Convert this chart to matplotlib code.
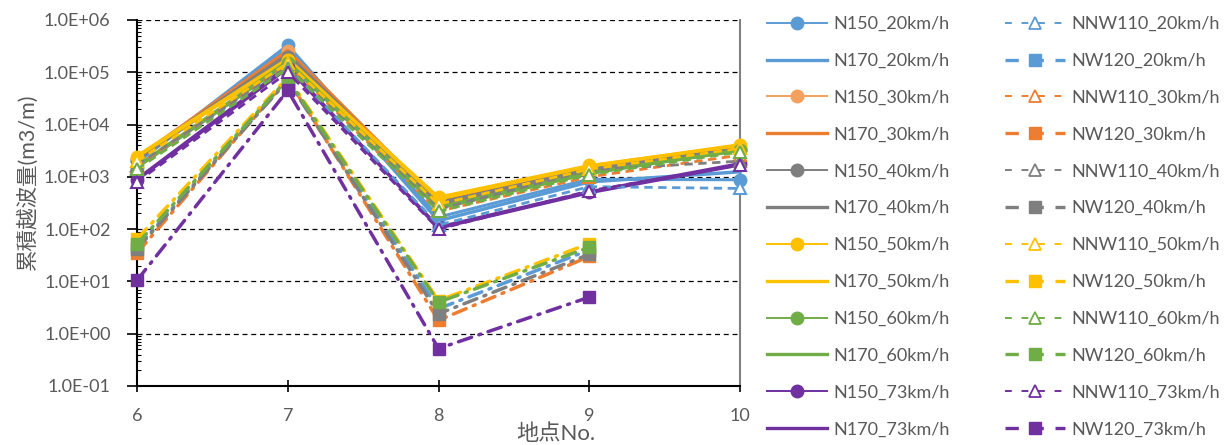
import numpy as np
import matplotlib
matplotlib.use("Agg")
import matplotlib.pyplot as plt
from matplotlib.lines import Line2D
from matplotlib.ticker import LogLocator, FixedLocator, FuncFormatter, NullFormatter

plt.rcParams['font.family'] = ['Lato', 'Noto Sans CJK JP', 'DejaVu Sans']

# ---------------- data ----------------
points = [6, 7, 8, 9, 10]
speeds = ['20', '30', '40', '50', '60', '73']

n150 = {
    '20': [2000, 330000, 170, 900, 880],
    '30': [2200, 250000, 300, 1300, 3500],
    '40': [2100, 200000, 280, 1250, 3200],
    '50': [2400, 170000, 410, 1650, 4000],
    '60': [1500, 150000, 250, 1150, 3300],
    '73': [870, 120000, 110, 520, 1800],
}
n170 = {
    '20': [1900, 280000, 145, 800, 1250],
    '30': [2300, 260000, 330, 1450, 3700],
    '40': [2300, 220000, 320, 1400, 3500],
    '50': [2500, 180000, 380, 1600, 4100],
    '60': [1600, 160000, 260, 1200, 3200],
    '73': [900, 130000, 105, 500, 1700],
}
nnw110 = {
    '20': [1500, 130000, 120, 650, 600],
    '30': [1600, 140000, 220, 1000, 2600],
    '40': [1700, 130000, 240, 1350, 2000],
    '50': [2000, 150000, 300, 1400, 3500],
    '60': [1400, 120000, 220, 1100, 3000],
    '73': [800, 100000, 100, 540, 1700],
}
nw120 = {
    '20': [45, 70000, 3.0, 40, np.nan],
    '30': [35, 75000, 1.8, 30, np.nan],
    '40': [42, 70000, 2.4, 33, np.nan],
    '50': [65, 80000, 4.3, 53, np.nan],
    '60': [52, 75000, 4.0, 45, np.nan],
    '73': [10.5, 45000, 0.52, 5.0, np.nan],
}

colors = {'20': '#5B9BD5', '30': '#ED7D31', '40': '#7F7F7F',
          '50': '#FFC000', '60': '#70AD47', '73': '#7030A0'}
light = {'20': '#5B9BD5', '30': '#F4A15F', '40': '#7F7F7F',
         '50': '#FFC000', '60': '#70AD47', '73': '#7030A0'}

ylabel = '累積越波量(m3/m)'
xlabel = '地点No.'
ytick_vals = [1e-1, 1e0, 1e1, 1e2, 1e3, 1e4, 1e5, 1e6]

# ---------------- figure ----------------
W, H = 1224, 445
fig = plt.figure(figsize=(W / 100, H / 100), dpi=100)
ax = fig.add_axes([137 / W, 1 - 386 / H, (740 - 137) / W, (386 - 20) / H])

x = np.array(points, dtype=float)
dashdot = (0, (4, 2.2, 0.6, 2.2))
dashed = (0, (3, 2))

for s in speeds:
    ax.plot(x, n150[s], color=light[s], lw=2.2, marker='o', ms=9,
            clip_on=False, zorder=3)
    ax.plot(x, n170[s], color=colors[s], lw=2.5, clip_on=False, zorder=3)
for s in speeds:
    ax.plot(x, nnw110[s], color=colors[s], lw=2.0, ls=dashed, marker='^',
            ms=9, mfc='white', mec=colors[s], mew=1.5, clip_on=False, zorder=3)
    ax.plot(x, nw120[s], color=colors[s], lw=2.5, ls=dashdot, marker='s',
            ms=8.5, clip_on=False, zorder=3, dash_capstyle='round')

ax.set_yscale('log')
ax.set_ylim(1e-1, 1e6)
ax.set_xlim(6, 10)
ax.set_xticks(points)
ax.set_xticklabels([str(p) for p in points])
ax.yaxis.set_major_locator(FixedLocator(ytick_vals))
ax.yaxis.set_major_formatter(FuncFormatter(lambda v, p: '%.1E' % v))
ax.yaxis.set_minor_locator(LogLocator(base=10, subs=np.arange(2, 10), numticks=20))
ax.yaxis.set_minor_formatter(NullFormatter())

tick_color = '#595959'
ax.tick_params(axis='y', which='major', direction='out', length=7, width=1.2,
               labelsize=13, labelcolor=tick_color, pad=12)
ax.tick_params(axis='y', which='minor', direction='in', length=3, width=0.8)
ax.tick_params(axis='x', which='major', direction='inout', length=9, width=1.2,
               labelsize=13, labelcolor=tick_color, pad=11)

ax.grid(axis='y', which='major', color='black', lw=0.9, ls=(0, (4, 3)))
ax.set_axisbelow(True)
ax.spines['top'].set_visible(False)
ax.spines['right'].set_color('#808080')
ax.spines['right'].set_linewidth(1.5)
ax.spines['left'].set_linewidth(1.5)
ax.spines['bottom'].set_linewidth(1.5)

fig.text(27 / W, 1 - 182 / H, ylabel, rotation=90, ha='center', va='center',
         fontsize=15.5, color=tick_color)
fig.text(556 / W, 1 - 423 / H, xlabel, ha='center', va='top',
         fontsize=16, color=tick_color)

# ---------------- legends ----------------
h1, l1, h2, l2 = [], [], [], []
for s in speeds:
    h1.append(Line2D([], [], color=light[s], lw=1.4, marker='o', ms=9))
    l1.append('N150_%skm/h' % s)
    h1.append(Line2D([], [], color=colors[s], lw=2.4))
    l1.append('N170_%skm/h' % s)
    h2.append(Line2D([], [], color=colors[s], lw=1.4, ls=(0, (3.5, 5)),
                     marker='^', ms=9, mfc='white', mec=colors[s], mew=1.3))
    l2.append('NNW110_%skm/h' % s)
    h2.append(Line2D([], [], color=colors[s], lw=2.4, ls=(0, (4, 3.5)),
                     marker='s', ms=8.5))
    l2.append('NW120_%skm/h' % s)

common = dict(loc='upper left', frameon=False, fontsize=13, numpoints=1,
              handlelength=3.3, handletextpad=0.35, labelspacing=1.155,
              borderpad=0, borderaxespad=0, labelcolor=tick_color)
leg1 = fig.legend(h1, l1, bbox_to_anchor=(767 / W, 1 - 16 / H), **common)
leg2 = fig.legend(h2, l2, bbox_to_anchor=(1005 / W, 1 - 16 / H), **common)

fig.savefig('out.png', dpi=100)
